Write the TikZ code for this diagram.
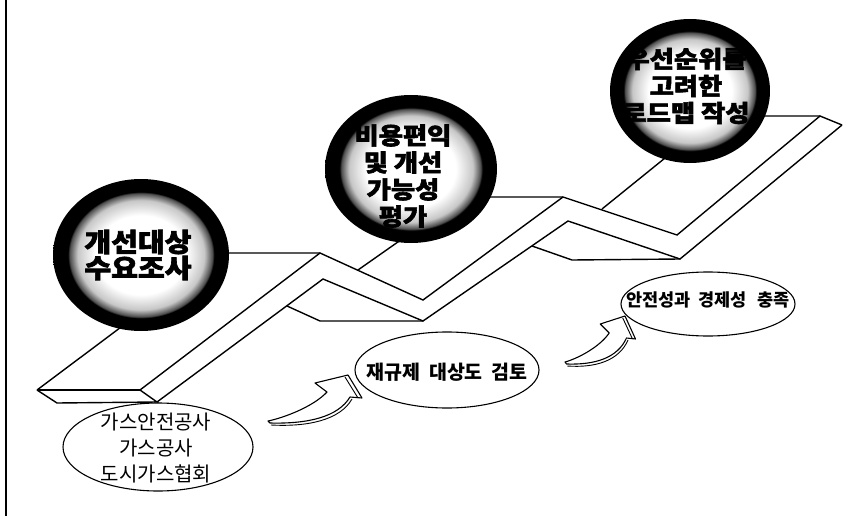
\documentclass[tikz,border=0pt]{standalone}
\usepackage{fontspec}
\newfontfamily\krhead{Noto Sans CJK KR}[FakeStretch=1.12, BoldFeatures={FakeBold=2.5}]
\newfontfamily\krtext{Noto Sans CJK KR}[WordSpace=2]
\usetikzlibrary{shapes.geometric}
\pgfdeclareradialshading{ringball}{\pgfpointorigin}{color(0bp)=(white); color(13bp)=(white); color(18bp)=(black!22); color(20.3bp)=(black!70); color(20.8bp)=(black); color(25bp)=(black); color(50bp)=(black)}
\begin{document}
\begin{tikzpicture}[x=1pt,y=-1pt,
  rib/.style={line width=1.4pt, line join=miter},
  ball/.style={ellipse, shading=ringball, inner sep=0pt},
  oval/.style={ellipse, draw, line width=1.1pt, fill=white, inner sep=0pt},
  headtxt/.style={font=\krhead\bfseries\fontsize{23.5}{27}\selectfont, align=center, inner sep=0pt},
  bigheadtxt/.style={font=\krhead\bfseries\fontsize{26}{26}\selectfont, align=center, inner sep=0pt},
  plaintxt/.style={font=\krtext\fontsize{20}{26}\selectfont, align=center, inner sep=0pt},
  boldtxt/.style={font=\krtext\bfseries\fontsize{19.5}{24}\selectfont, align=center, inner sep=0pt},
  smallboldtxt/.style={font=\krtext\bfseries\fontsize{17.5}{20}\selectfont, align=center, inner sep=0pt},
  swoosh/.style={draw, fill=white, line width=1.1pt, line join=round},
  bevel/.style={line width=0.9pt}
]
\fill[white] (0,0) rectangle (859,516);
\useasboundingbox (0,0) rectangle (859,516);
\draw[line width=2.5pt] (6,0) -- (6,516);

% ribbon points
\coordinate (A0) at (37,390);
\coordinate (A1) at (140,390);
\coordinate (A2) at (57,403);
\coordinate (A3) at (157,402);
\coordinate (P1b) at (220,253);
\coordinate (P1) at (320,253);
\coordinate (P1s) at (323,279);
\coordinate (B3a) at (287,306);
\coordinate (B3b) at (320,321);
\coordinate (V1) at (423,300);
\coordinate (V1s) at (423,321);
\coordinate (Q1) at (358,270);
\coordinate (P2b) at (462,197);
\coordinate (P2) at (563,197);
\coordinate (P2s) at (568,221);
\coordinate (D3a) at (532,246);
\coordinate (D3b) at (572,260);
\coordinate (V2) at (677,235);
\coordinate (V2s) at (680,259);
\coordinate (Q2) at (602,209);
\coordinate (P3b) at (717,116);
\coordinate (P3) at (820,116);
\coordinate (E) at (842,125);

\draw[rib] (A0) -- (P1b) -- (P1);
\draw[rib] (A1) -- (P1) -- (V1) -- (P2) -- (V2) -- (P3) -- (E);
\draw[rib] (A0) -- (A1);
\draw[rib] (A0) -- (A2) -- (A3) -- (A1);
\draw[rib] (A3) -- (P1s) -- (V1s) -- (P2s) -- (V2s) -- (E);
\draw[rib] (B3a) -- (B3b) -- (V1s);
\draw[rib] (D3a) -- (D3b) -- (V2s);
\draw[rib] (Q1) -- (P2b) -- (P2);
\draw[rib] (Q2) -- (P3b) -- (P3);

% balls
\node[ball, minimum width=176pt, minimum height=152pt] (c1) at (141,255) {};
\node[ball, minimum width=172pt, minimum height=148pt] (c2) at (411,169) {};
\node[ball, minimum width=160pt, minimum height=144pt] (c3) at (690,91) {};
\node[bigheadtxt] (t1) at (138,255) {개선대상\\수요조사};
\node[headtxt] (t2) at (403,176) {비용편익\\및 개선\\가능성\\평가};
\node[headtxt] (t3) at (686,86) {우선순위를\\고려한\\로드맵 작성};

% ovals
\node[oval, minimum width=190pt, minimum height=88pt] (o1) at (158,447) {};
\node[oval, minimum width=184pt, minimum height=76pt] (o2) at (447,370) {};
\node[oval, minimum width=174pt, minimum height=64pt] (o3) at (708,304) {};
\node[plaintxt] (u1) at (156,448) {가스안전공사\\가스공사\\도시가스협회};
\node[boldtxt] (u2) at (447,372) {재규제 대상도 검토};
\node[smallboldtxt] (u3) at (708,300) {안전성과 경제성 \,충족};

% swoosh arrows
\begin{scope}[shift={(268,421)}]
  \draw[swoosh] (0,0) .. controls (15,-3) and (45,-14) .. (59,-29) -- (47,-38) -- (80,-46) -- (94,-23) -- (82,-24)
     .. controls (70,-4) and (40,3) .. (2,2) -- cycle;
  \draw[bevel] (77,-44) -- (90,-23);
  \draw[bevel] (84,-22) .. controls (72,-1) and (40,6) .. (3,4);
\end{scope}
\begin{scope}[shift={(565,362)}, xscale=0.75]
  \draw[swoosh] (0,0) .. controls (15,-3) and (45,-14) .. (59,-29) -- (47,-38) -- (80,-46) -- (94,-23) -- (82,-24)
     .. controls (70,-4) and (40,3) .. (2,2) -- cycle;
  \draw[bevel] (77,-44) -- (90,-23);
  \draw[bevel] (84,-22) .. controls (72,-1) and (40,6) .. (3,4);
\end{scope}
\end{tikzpicture}
\end{document}
